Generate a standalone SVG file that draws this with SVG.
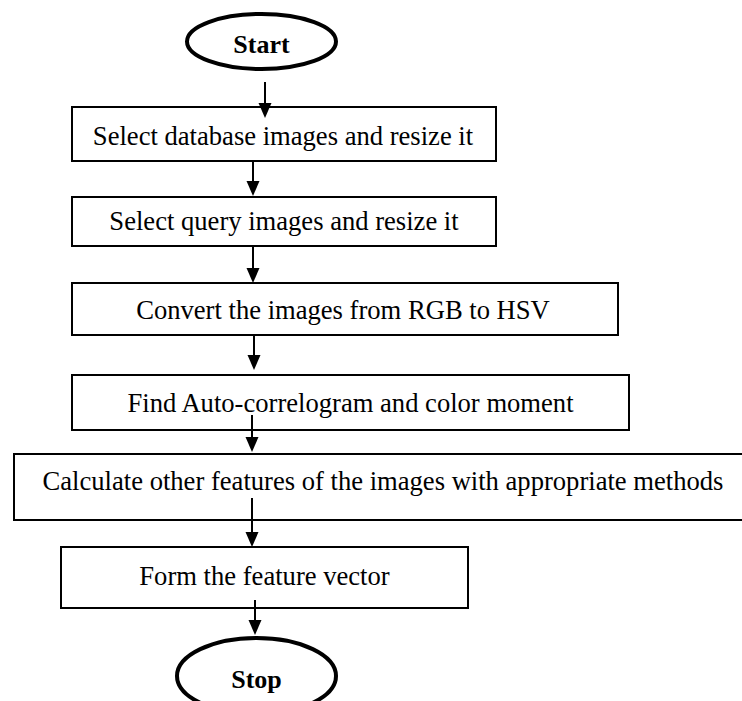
<svg xmlns="http://www.w3.org/2000/svg" width="742" height="701" viewBox="0 0 742 701">
<style>
.box{fill:#fff;stroke:#000;stroke-width:2}
.term{fill:#fff;stroke:#000;stroke-width:4}
.t{font-family:"Liberation Serif","Times New Roman",serif;font-size:26.6px;fill:#000;text-anchor:middle}
.b{font-family:"Liberation Serif","Times New Roman",serif;font-size:26px;font-weight:bold;fill:#000;text-anchor:middle}
.ln{stroke:#000;stroke-width:2;fill:none}
.ah{fill:#000}
</style>
<rect width="742" height="701" fill="#fff"/>
<g id="start"><ellipse class="term" cx="261.5" cy="41.5" rx="74.5" ry="27.5"/><text class="b" x="261.5" y="53">Start</text></g>
<g id="n1"><rect class="box" x="72" y="107" width="424" height="54"/><text class="t" x="283" y="145">Select database images and resize it</text></g>
<g id="n2"><rect class="box" x="72" y="197" width="424" height="49"/><text class="t" x="284" y="230">Select query images and resize it</text></g>
<g id="n3"><rect class="box" x="72" y="283" width="546" height="52"/><text class="t" x="343" y="319">Convert the images from RGB to HSV</text></g>
<g id="n4"><rect class="box" x="72" y="375" width="557" height="55"/><text class="t" x="350.5" y="412">Find Auto-correlogram and color moment</text></g>
<g id="n5"><rect class="box" x="14" y="454" width="740" height="66"/><text class="t" x="383" y="490">Calculate other features of the images with appropriate methods</text></g>
<g id="n6"><rect class="box" x="61" y="547" width="407" height="61"/><text class="t" x="264.5" y="585">Form the feature vector</text></g>
<g id="stop"><ellipse class="term" cx="256.5" cy="676" rx="79.5" ry="38"/><text class="b" x="256.5" y="688">Stop</text></g>
<g id="connectors">
<line class="ln" x1="265" y1="82" x2="265" y2="104"/><polygon class="ah" points="258.5,103 271.5,103 265,118"/>
<line class="ln" x1="253" y1="161" x2="253" y2="182"/><polygon class="ah" points="246.5,181 259.5,181 253,196"/>
<line class="ln" x1="253" y1="246" x2="253" y2="269"/><polygon class="ah" points="246.5,268 259.5,268 253,283"/>
<line class="ln" x1="254" y1="335" x2="254" y2="356"/><polygon class="ah" points="247.5,355 260.5,355 254,370"/>
<line class="ln" x1="252" y1="415" x2="252" y2="438"/><polygon class="ah" points="245.5,437 258.5,437 252,452"/>
<line class="ln" x1="252" y1="498" x2="252" y2="533"/><polygon class="ah" points="245.5,532 258.5,532 252,547"/>
<line class="ln" x1="255" y1="600" x2="255" y2="621"/><polygon class="ah" points="248.5,620 261.5,620 255,635"/>
</g>
</svg>
